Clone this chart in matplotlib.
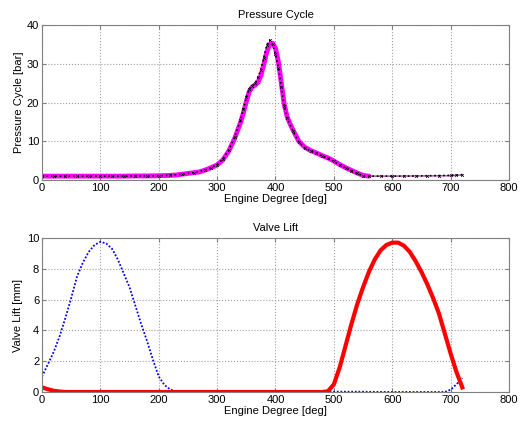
import matplotlib
matplotlib.use('Agg')
import matplotlib.pyplot as plt

plt.rcParams['font.family'] = ['Liberation Sans', 'DejaVu Sans']
plt.rcParams['font.size'] = 8

# pressure cycle data (deg, bar)
pressure_deg = [0, 20, 40, 60, 80, 100, 120, 140, 160, 180, 200, 210, 220, 230, 240,
                250, 260, 270, 280, 290, 300, 310, 320, 330, 340, 345, 350, 355, 360,
                365, 370, 375, 380, 385, 390, 395, 400, 405, 410, 415, 420, 425, 430,
                440, 450, 460, 470, 480, 490, 500, 510, 520, 530, 540, 550, 560]
pressure_sim = [1.0, 1.0, 1.0, 1.0, 1.0, 1.0, 1.0, 1.0, 1.05, 1.05, 1.1, 1.15, 1.2, 1.3, 1.5,
                1.7, 1.9, 2.1, 2.6, 3.2, 3.9, 5.2, 7.5, 10.7, 14.8, 17.3, 20.2, 22.8, 24.0,
                24.5, 25.2, 27.0, 29.8, 33.0, 35.0, 35.3, 34.0, 30.5, 25.0, 19.5, 16.3, 14.5, 12.9,
                10.0, 8.5, 7.6, 7.0, 6.3, 5.7, 4.9, 4.0, 3.2, 2.5, 1.8, 1.2, 1.0]
tail_deg = [550, 560, 600, 700, 720]
tail_sim = [1.2, 1.0, 1.0, 1.1, 1.3]

meas_deg = [0, 20, 40, 60, 80, 100, 120, 140, 160, 180, 200, 220, 240, 260, 280, 290,
            300, 310, 320, 330, 340, 345, 350, 355, 360, 365, 370, 375, 380, 385, 390,
            395, 400, 405, 410, 415, 420, 430, 440, 450, 460, 470, 480, 490, 500, 510,
            520, 530, 540, 550, 560, 580, 600, 620, 640, 660, 680, 700, 710, 720]
pressure_meas = [1.0, 1.0, 1.0, 1.0, 1.0, 1.0, 1.0, 1.0, 1.05, 1.05, 1.1, 1.2, 1.5, 1.9, 2.6, 3.2,
                 4.0, 5.4, 7.8, 11.0, 15.5, 18.3, 21.3, 23.5, 24.3, 25.0, 26.5, 28.5, 31.5, 34.8, 36.1,
                 35.0, 32.5, 29.0, 24.0, 19.0, 16.0, 12.6, 9.8, 8.3, 7.5, 6.9, 6.2, 5.6, 4.8, 3.9,
                 3.1, 2.4, 1.7, 1.1, 1.0, 1.0, 1.0, 1.0, 1.05, 1.1, 1.15, 1.2, 1.3, 1.4]

# valve lift data (deg, mm)
intake_deg = [0, 10, 20, 30, 40, 50, 60, 70, 80, 90, 100, 110, 120, 130, 140, 150, 160,
              170, 180, 190, 200, 210, 220, 230, 240, 250, 300, 400, 500, 540, 600, 690,
              700, 710, 720]
intake_lift = [1.0, 1.8, 2.6, 3.6, 4.8, 6.1, 7.5, 8.4, 9.1, 9.55, 9.75, 9.65, 9.3, 8.6, 7.7, 6.8, 5.6,
               4.4, 3.3, 2.1, 1.0, 0.45, 0.15, 0.05, 0.02, 0.0, 0.0, 0.0, 0.02, 0.02, 0.0, 0.0,
               0.15, 0.5, 0.9]

exhaust_deg = [0, 10, 20, 30, 40, 100, 200, 300, 400, 480, 490, 500, 510, 520, 530, 540,
               550, 560, 570, 580, 590, 600, 610, 620, 630, 640, 650, 660, 670, 680, 690,
               700, 710, 720]
exhaust_lift = [0.3, 0.18, 0.08, 0.03, 0.0, 0.0, 0.0, 0.0, 0.0, 0.0, 0.05, 0.5, 1.6, 3.0, 4.4, 5.7,
                6.8, 7.8, 8.6, 9.2, 9.55, 9.7, 9.7, 9.5, 9.1, 8.5, 7.8, 7.0, 6.1, 5.1, 3.8,
                2.5, 1.3, 0.3]


def matlab_style(ax, ylim, yticks):
    ax.set_xlim(0, 800)
    ax.set_ylim(*ylim)
    ax.set_xticks(range(0, 801, 100))
    ax.set_yticks(yticks)
    ax.grid(True, linestyle=':', color='#a0a0a0', linewidth=0.8)
    ax.tick_params(direction='in', top=True, right=True, length=3, color='#808080', pad=2)
    for s in ax.spines.values():
        s.set_color('#808080')
    ax.set_xlabel('Engine Degree [deg]', labelpad=1)


fig = plt.figure(figsize=(5.25, 4.28), dpi=100)

ax1 = fig.add_axes([0.08, 0.5794, 0.8895, 0.3622])
ax1.plot(pressure_deg, pressure_sim, color='magenta', linewidth=3.5, solid_capstyle='round')
ax1.plot(tail_deg, tail_sim, color='#b040b0', linewidth=1)
ax1.plot(meas_deg, pressure_meas, color='black', linestyle=':', linewidth=1.2,
         marker='x', markersize=2, markeredgewidth=0.5)
ax1.set_title('Pressure Cycle', fontsize=8, pad=5)
ax1.set_ylabel('Pressure Cycle [bar]', labelpad=2)
matlab_style(ax1, (0, 40), range(0, 41, 10))

ax2 = fig.add_axes([0.08, 0.0841, 0.8895, 0.3598])
ax2.plot(intake_deg, intake_lift, color='blue', linestyle=(0, (1, 1)), linewidth=1.3)
ax2.plot(exhaust_deg, exhaust_lift, color='red', linewidth=3)
ax2.set_title('Valve Lift', fontsize=8, pad=5)
ax2.set_ylabel('Valve Lift [mm]', labelpad=3)
matlab_style(ax2, (0, 10), range(0, 11, 2))

fig.savefig('out.png', dpi=100)
